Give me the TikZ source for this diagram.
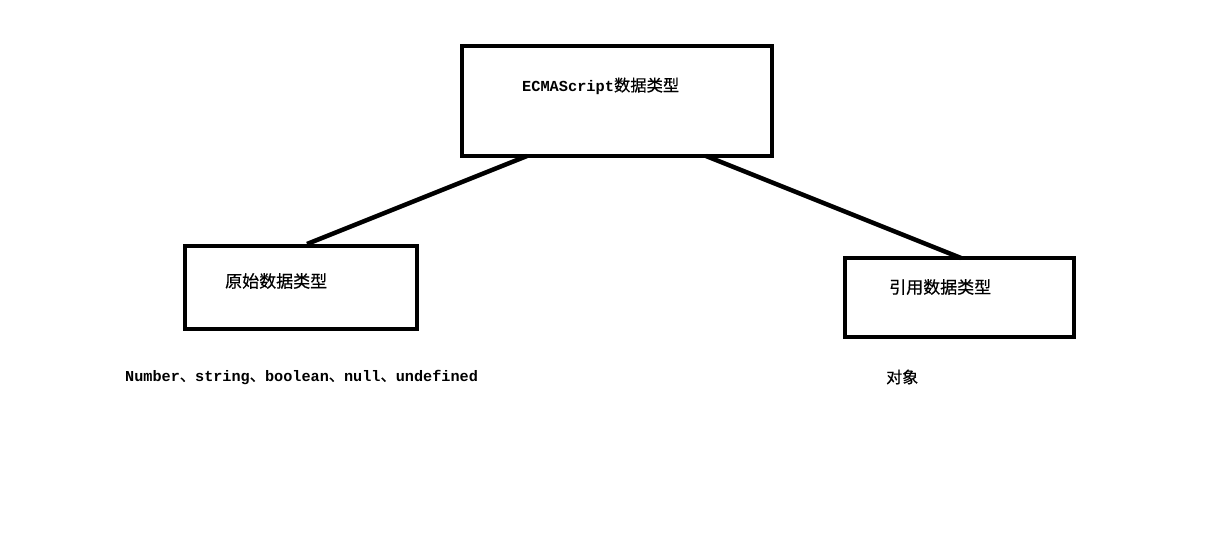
\documentclass[tikz,border=0pt]{standalone}
\usepackage{fontspec}
\setmainfont{Liberation Serif}
\newfontfamily\cjk{Noto Sans CJK SC}[FakeBold=0.5]
\newfontfamily\mono{Liberation Mono}[BoldFont={Liberation Mono Bold}]
\begin{document}
\begin{tikzpicture}[x=1pt,y=-1pt,
  box/.style={draw=black,line width=4pt},
  link/.style={draw=black,line width=4.5pt},
  lbl/.style={inner sep=0pt,anchor=west}]
\useasboundingbox (0,0) rectangle (1217,544);
\fill[white] (0,0) rectangle (1217,544);
\draw[box] (462,46) rectangle (772,156);
\draw[box] (185,246) rectangle (417,329);
\draw[box] (845,258) rectangle (1074,337);
\coordinate (t1) at (527,156);
\coordinate (l1) at (307,244);
\coordinate (t2) at (706,156);
\coordinate (r1) at (961,258);
\draw[link] (t1) -- (l1);
\draw[link] (t2) -- (r1);
\node[lbl] (top) at (522,86) {\fontsize{15.3}{15}\selectfont\mono\bfseries ECMAScript{\cjk\fontsize{16.3}{16}\selectfont\mdseries 数据类型}};
\node[lbl] (left) at (225,281) {\fontsize{17}{17}\selectfont\cjk 原始数据类型};
\node[lbl] (right) at (889,287) {\fontsize{17}{17}\selectfont\cjk 引用数据类型};
\node[lbl] (prim) at (125,377) {\fontsize{15.2}{15}\selectfont\mono\bfseries Number{\cjk\mdseries 、}string{\cjk\mdseries 、}boolean{\cjk\mdseries 、}null{\cjk\mdseries 、}undefined};
\node[lbl] (obj) at (886,377) {\fontsize{16}{16}\selectfont\cjk 对象};
\end{tikzpicture}
\end{document}
